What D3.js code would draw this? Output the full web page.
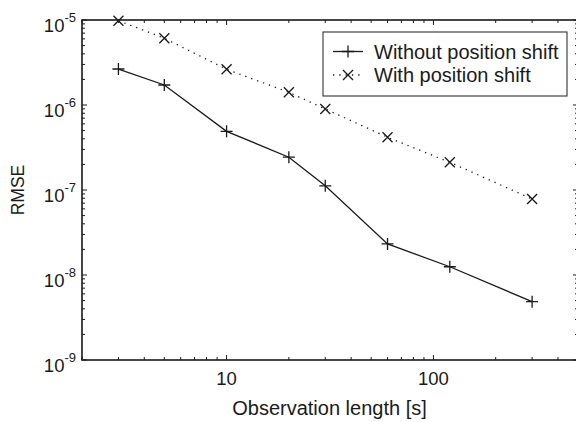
<!DOCTYPE html>
<html><head><meta charset="utf-8">
<script src="https://cdn.jsdelivr.net/npm/d3@7"></script>
<style>
body{margin:0;background:#fff;}
svg{display:block;font-family:"Liberation Sans",Arial,Helvetica,sans-serif;}
</style></head>
<body><svg id="c" width="576" height="422"></svg>
<script>
const obsLength = [3, 5, 10, 20, 30, 60, 120, 300];
const rmseWithout = [2.65e-6, 1.72e-6, 4.9e-7, 2.43e-7, 1.12e-7, 2.32e-8, 1.25e-8, 4.85e-9];
const rmseWith = [9.8e-6, 6.1e-6, 2.63e-6, 1.41e-6, 8.98e-7, 4.17e-7, 2.12e-7, 7.84e-8];
const seriesNames = ["Without position shift", "With position shift"];
const xTickLabels = [10, 100];
const yTickExps = [-5, -6, -7, -8, -9];
const xTitle = "Observation length [s]";
const yTitle = "RMSE";

const svg = d3.select("#c");
const L = 82, R = 578, T = 20, B = 360;
const x = d3.scaleLog().domain([2, 500]).range([L, R]);
const y = d3.scaleLog().domain([1e-9, 1e-5]).range([B, T]);
const ink = "#1a1a1a";

const xMinor = [];
for (let d = 1; d <= 100; d *= 10) for (let k = 1; k <= 9; k++) { const v = k * d; if (v >= 2 && v <= 500) xMinor.push(v); }
const yMinor = [];
for (let e = -9; e < -5; e++) for (let k = 1; k <= 9; k++) yMinor.push(k * Math.pow(10, e));
yMinor.push(1e-5);

const g = svg.append("g").attr("stroke", ink).attr("fill", "none");
xMinor.forEach(v => {
  const major = xTickLabels.includes(v);
  const len = major ? 5 : 3;
  g.append("line").attr("x1", x(v)).attr("x2", x(v)).attr("y1", B).attr("y2", B - len).attr("stroke-width", 1);
  g.append("line").attr("x1", x(v)).attr("x2", x(v)).attr("y1", T).attr("y2", T + len).attr("stroke-width", 1);
});
yMinor.forEach(v => {
  const e = Math.log10(v);
  const major = Math.abs(e - Math.round(e)) < 1e-9;
  const len = major ? 5 : 3;
  g.append("line").attr("x1", L).attr("x2", L + len).attr("y1", y(v)).attr("y2", y(v)).attr("stroke-width", 1);
  g.append("line").attr("x1", R).attr("x2", R - len).attr("y1", y(v)).attr("y2", y(v)).attr("stroke-width", 1);
});
g.append("rect").attr("x", L).attr("y", T).attr("width", R - L).attr("height", B - T).attr("stroke-width", 1.6);

xTickLabels.forEach(v => {
  svg.append("text").attr("x", x(v)).attr("y", B + 25).attr("text-anchor", "middle")
    .attr("font-size", 18.5).attr("fill", ink).text(v);
});
yTickExps.forEach(e => {
  const t = svg.append("text").attr("x", 76).attr("y", y(Math.pow(10, e)) + 12)
    .attr("text-anchor", "end").attr("font-size", 18.5).attr("fill", ink);
  t.append("tspan").text("10");
  t.append("tspan").attr("dy", -10).attr("font-size", 13).text(String(e));
});

svg.append("text").attr("x", 329.5).attr("y", 415).attr("text-anchor", "middle")
  .attr("font-size", 20).attr("fill", ink).text(xTitle);
svg.append("text").attr("transform", "translate(24,190) rotate(-90)").attr("text-anchor", "middle")
  .attr("font-size", 17.5).attr("fill", ink).text(yTitle);

function plus(cx, cy, r) { return `M${cx - r},${cy}H${cx + r}M${cx},${cy - r}V${cy + r}`; }
function times(cx, cy, r) { return `M${cx - r},${cy - r}L${cx + r},${cy + r}M${cx - r},${cy + r}L${cx + r},${cy - r}`; }

const line = d3.line().x(d => x(d[0])).y(d => y(d[1]));
const dWithout = obsLength.map((v, i) => [v, rmseWithout[i]]);
const dWith = obsLength.map((v, i) => [v, rmseWith[i]]);

svg.append("path").attr("d", line(dWithout)).attr("fill", "none").attr("stroke", ink).attr("stroke-width", 1.3);
svg.append("path").attr("d", line(dWith)).attr("fill", "none").attr("stroke", ink).attr("stroke-width", 1.3)
  .attr("stroke-dasharray", "1.3,5");
dWithout.forEach(d => svg.append("path").attr("d", plus(x(d[0]), y(d[1]), 6)).attr("stroke", ink).attr("stroke-width", 1.3));
dWith.forEach(d => svg.append("path").attr("d", times(x(d[0]), y(d[1]), 5)).attr("stroke", ink).attr("stroke-width", 1.3));

const lg = svg.append("g");
lg.append("rect").attr("x", 323).attr("y", 32).attr("width", 244).attr("height", 64)
  .attr("fill", "#fff").attr("stroke", "#444").attr("stroke-width", 1.2);
lg.append("line").attr("x1", 333).attr("x2", 363).attr("y1", 51.5).attr("y2", 51.5).attr("stroke", ink).attr("stroke-width", 1.3);
lg.append("path").attr("d", plus(348, 51.5, 6)).attr("stroke", ink).attr("stroke-width", 1.3);
lg.append("line").attr("x1", 333).attr("x2", 363).attr("y1", 75).attr("y2", 75).attr("stroke", ink).attr("stroke-width", 1.3).attr("stroke-dasharray", "1.3,5");
lg.append("path").attr("d", times(348, 75, 5)).attr("stroke", ink).attr("stroke-width", 1.3);
seriesNames.forEach((n, i) => {
  lg.append("text").attr("x", 374).attr("y", 58.5 + i * 23.5).attr("font-size", 20).attr("fill", ink).text(n);
});
</script></body></html>
